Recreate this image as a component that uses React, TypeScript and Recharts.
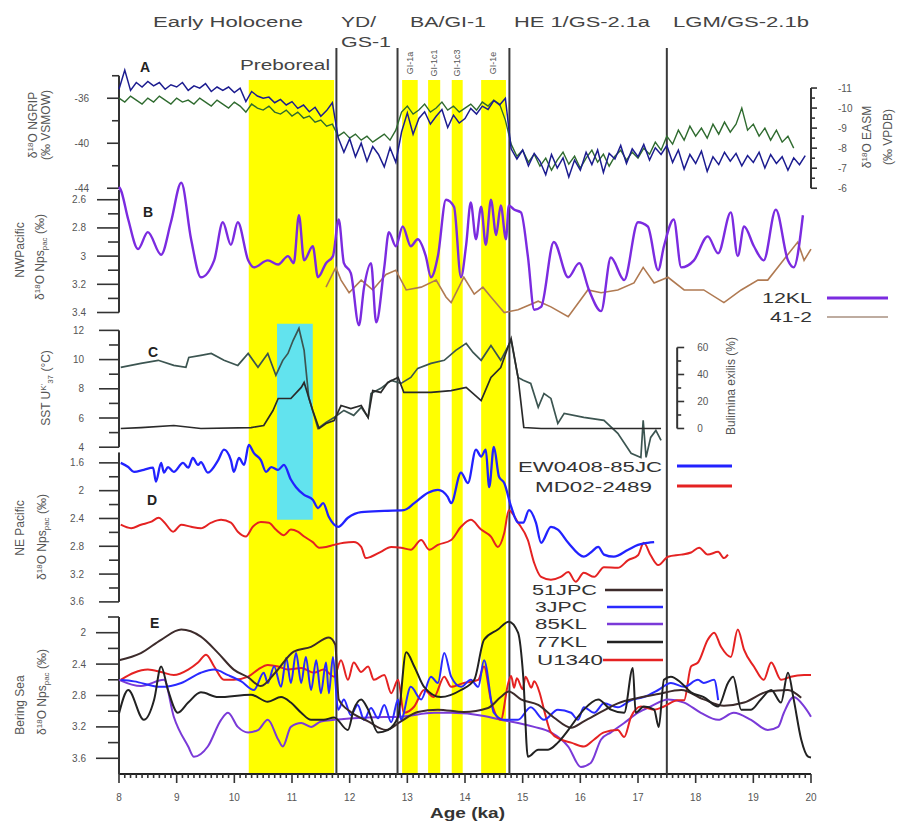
import React from 'react';
import { ComposedChart, Line, XAxis, YAxis, ReferenceArea, ReferenceLine } from 'recharts';

// Multi-proxy deglacial stack (8-20 ka), panels A-E sharing one age axis.

type Pt = [number, number];

const FONT = '"Liberation Sans", Arial, sans-serif';
const AXIS = '#333';
const TXT = '#555';

// ---- age axis ----
const ageLabels = [8, 9, 10, 11, 12, 13, 14, 15, 16, 17, 18, 19, 20];
const periodBounds = [11.77, 12.83, 14.77, 17.5];
const preboreal = [10.25, 11.73];
const giBands: Pt[] = [[12.91, 13.18], [13.36, 13.57], [13.77, 13.96], [14.28, 14.71]];
const cyanBand = [10.74, 11.36];

// ---- A: NGRIP (‰ VSMOW) and EASM speleothem (‰ VPDB) ----
const ngrip: Pt[] = [
  [8.0, -35.2], [8.1, -33.5], [8.2, -35.3], [8.3, -34.6], [8.4, -35.0], [8.5, -34.5], [8.6, -34.9], [8.7, -34.6], [8.8, -35.2], [8.9, -34.8],
  [9.0, -35.0], [9.1, -34.6], [9.2, -35.3], [9.3, -34.9], [9.4, -35.1], [9.5, -34.7], [9.6, -35.4], [9.7, -35.0], [9.8, -35.3], [9.9, -35.0],
  [10.0, -35.5], [10.1, -35.1], [10.2, -36.3], [10.3, -35.4], [10.4, -35.8], [10.5, -36.0], [10.6, -35.9], [10.7, -36.4], [10.8, -36.1], [10.9, -36.6],
  [11.0, -36.3], [11.1, -36.9], [11.2, -36.6], [11.3, -37.2], [11.4, -36.8], [11.5, -37.6], [11.6, -37.1], [11.7, -36.4], [11.8, -39.5], [11.9, -40.8],
  [12.0, -39.6], [12.1, -41.2], [12.2, -40.0], [12.3, -41.6], [12.4, -40.3], [12.5, -41.0], [12.6, -42.1], [12.7, -40.4], [12.8, -41.7], [12.9, -39.0],
  [13.0, -37.3], [13.1, -39.2], [13.2, -37.8], [13.3, -37.2], [13.4, -38.3], [13.5, -37.6], [13.6, -37.0], [13.7, -38.6], [13.8, -37.5], [13.9, -38.2],
  [14.0, -37.8], [14.1, -36.9], [14.2, -37.4], [14.3, -36.7], [14.4, -37.0], [14.5, -36.2], [14.6, -36.6], [14.7, -36.0], [14.8, -40.5], [14.9, -41.4],
  [15.0, -40.6], [15.1, -42.0], [15.2, -40.9], [15.3, -41.6], [15.4, -42.8], [15.5, -41.0], [15.6, -42.2], [15.7, -41.3], [15.8, -43.0], [15.9, -41.5],
  [16.0, -42.4], [16.1, -40.8], [16.2, -41.9], [16.3, -40.6], [16.4, -42.6], [16.5, -40.9], [16.6, -41.4], [16.7, -40.2], [16.8, -41.8], [16.9, -40.5],
  [17.0, -41.2], [17.1, -40.1], [17.2, -41.5], [17.3, -40.4], [17.4, -41.0], [17.5, -40.2], [17.6, -41.7], [17.7, -40.6], [17.8, -42.3], [17.9, -41.0],
  [18.0, -41.8], [18.1, -40.7], [18.2, -42.5], [18.3, -41.2], [18.4, -41.9], [18.5, -40.8], [18.6, -41.6], [18.7, -40.9], [18.8, -42.0], [18.9, -41.1],
  [19.0, -41.7], [19.1, -40.8], [19.2, -42.2], [19.3, -41.0], [19.4, -41.8], [19.5, -41.2], [19.6, -42.4], [19.7, -41.3], [19.8, -41.9], [19.9, -41.1],
];

const easm: Pt[] = [
  [8.0, -10.5], [8.1, -10.3], [8.2, -10.6], [8.3, -10.4], [8.4, -10.2], [8.5, -10.5], [8.6, -10.3], [8.7, -10.6], [8.8, -10.4], [8.9, -10.2],
  [9.0, -10.5], [9.1, -10.3], [9.2, -10.4], [9.3, -10.2], [9.4, -10.5], [9.5, -10.3], [9.6, -10.1], [9.7, -10.4], [9.8, -10.2], [9.9, -10.0],
  [10.0, -10.3], [10.1, -10.1], [10.2, -9.8], [10.3, -10.2], [10.4, -10.0], [10.5, -9.9], [10.6, -10.1], [10.7, -9.8], [10.8, -9.7], [10.9, -9.9],
  [11.0, -9.6], [11.1, -9.8], [11.2, -9.5], [11.3, -9.6], [11.4, -9.3], [11.5, -9.4], [11.6, -9.1], [11.7, -9.2], [11.8, -8.6], [11.9, -8.8],
  [12.0, -8.5], [12.1, -8.7], [12.2, -8.4], [12.3, -8.6], [12.4, -8.3], [12.5, -8.5], [12.6, -8.7], [12.7, -8.4], [12.8, -8.9], [12.9, -9.8],
  [13.0, -10.1], [13.1, -9.7], [13.2, -9.9], [13.3, -10.2], [13.4, -9.8], [13.5, -10.0], [13.6, -10.3], [13.7, -9.9], [13.8, -10.1], [13.9, -9.8],
  [14.0, -10.0], [14.1, -10.2], [14.2, -9.9], [14.3, -10.3], [14.4, -10.1], [14.5, -10.4], [14.6, -10.2], [14.7, -9.4], [14.8, -8.2], [14.9, -7.6],
  [15.0, -7.9], [15.1, -7.3], [15.2, -7.7], [15.3, -7.1], [15.4, -7.5], [15.5, -6.9], [15.6, -7.4], [15.7, -7.8], [15.8, -7.2], [15.9, -7.6],
  [16.0, -7.0], [16.1, -7.5], [16.2, -7.9], [16.3, -7.3], [16.4, -7.7], [16.5, -7.1], [16.6, -7.6], [16.7, -7.9], [16.8, -7.4], [16.9, -7.8],
  [17.0, -7.5], [17.1, -8.0], [17.2, -7.7], [17.3, -8.3], [17.4, -7.9], [17.5, -8.6], [17.6, -8.2], [17.7, -8.9], [17.8, -8.4], [17.9, -9.1],
  [18.0, -8.6], [18.1, -9.0], [18.2, -8.5], [18.3, -9.2], [18.4, -8.7], [18.5, -9.3], [18.6, -8.8], [18.7, -9.2], [18.8, -10.0], [18.9, -8.9],
  [19.0, -9.2], [19.1, -8.6], [19.2, -9.0], [19.3, -8.4], [19.4, -8.9], [19.5, -8.3], [19.6, -8.6], [19.7, -8.0],
];

// ---- B: NW Pacific δ18O (‰) ----
const kl12: Pt[] = [
  [8.0, 2.51], [8.03, 2.53], [8.16, 2.74], [8.33, 2.95], [8.5, 2.83], [8.73, 2.99], [8.9, 2.76], [9.08, 2.48], [9.25, 2.88], [9.42, 3.15],
  [9.65, 3.03], [9.8, 2.76], [9.94, 2.92], [10.06, 2.76], [10.24, 3.03], [10.34, 3.08], [10.58, 3.03], [10.76, 3.06], [10.93, 3.0], [11.03, 3.05],
  [11.12, 2.71], [11.21, 3.03], [11.36, 2.93], [11.45, 3.15], [11.59, 3.05], [11.71, 3.0], [11.81, 2.74], [11.9, 3.05], [12.02, 3.12], [12.16, 3.49],
  [12.25, 3.22], [12.37, 3.05], [12.46, 3.47], [12.6, 3.08], [12.68, 2.83], [12.8, 2.93], [12.92, 2.79], [13.06, 2.93], [13.18, 2.88], [13.32, 3.0],
  [13.41, 3.15], [13.53, 3.0], [13.67, 2.6], [13.81, 2.65], [13.93, 3.15], [14.02, 2.92], [14.1, 2.62], [14.19, 2.88], [14.28, 2.65], [14.36, 2.92],
  [14.45, 2.6], [14.54, 2.85], [14.62, 2.64], [14.71, 2.88], [14.76, 2.64], [14.85, 2.67], [14.97, 2.69], [15.09, 3.0], [15.2, 3.38], [15.32, 3.36],
  [15.54, 2.9], [15.79, 3.15], [15.98, 3.05], [16.15, 3.24], [16.36, 3.39], [16.53, 3.01], [16.76, 3.17], [17.0, 2.76], [17.17, 2.79], [17.35, 3.1],
  [17.45, 2.93], [17.62, 2.74], [17.75, 3.08], [17.97, 3.03], [18.21, 2.86], [18.39, 2.98], [18.61, 2.69], [18.73, 3.0], [18.84, 2.79], [19.01, 2.93],
  [19.18, 3.03], [19.39, 2.67], [19.6, 3.03], [19.7, 3.08], [19.86, 2.71],
];

const core412: Pt[] = [
  [11.59, 3.22], [11.76, 3.08], [11.85, 3.17], [11.99, 3.26], [12.2, 3.17], [12.4, 3.24], [12.63, 3.13], [12.8, 3.1], [12.98, 3.24], [13.24, 3.22],
  [13.5, 3.17], [13.67, 3.29], [13.76, 3.33], [13.98, 3.15], [14.16, 3.27], [14.31, 3.22], [14.45, 3.29], [14.68, 3.4], [14.92, 3.38], [15.27, 3.32],
  [15.49, 3.36], [15.79, 3.43], [16.13, 3.24], [16.36, 3.26], [16.65, 3.24], [16.93, 3.19], [17.09, 3.08], [17.28, 3.19], [17.52, 3.15], [17.8, 3.24],
  [18.14, 3.24], [18.49, 3.33], [18.79, 3.24], [19.08, 3.17], [19.25, 3.17], [19.48, 3.05], [19.77, 2.9], [19.88, 3.03], [20.0, 2.95],
];

// ---- C: SST (°C) and benthic percentage (%) ----
const sst: Pt[] = [
  [8.03, 9.47], [8.38, 9.74], [8.68, 9.95], [8.95, 9.6], [9.16, 9.47], [9.21, 10.15], [9.42, 10.29], [9.6, 10.42], [9.82, 9.95], [10.06, 9.6],
  [10.24, 10.42], [10.41, 9.47], [10.58, 10.42], [10.72, 8.92], [10.84, 9.95], [10.93, 10.42], [11.02, 11.32], [11.12, 12.14], [11.21, 10.63], [11.29, 7.41],
  [11.45, 5.29], [11.59, 5.7], [11.73, 6.04], [11.9, 6.52], [12.07, 6.18], [12.2, 6.73], [12.32, 6.04], [12.37, 7.68], [12.54, 8.03], [12.72, 8.58],
  [12.89, 8.37], [13.06, 8.78], [13.18, 9.4], [13.41, 9.74], [13.64, 9.95], [13.84, 10.63], [14.02, 11.11], [14.14, 10.49], [14.28, 9.95], [14.45, 10.97],
  [14.62, 9.95], [14.8, 11.32], [14.92, 8.78], [15.01, 8.58], [15.14, 8.37], [15.27, 6.73], [15.37, 7.68], [15.49, 7.34], [15.61, 5.63], [15.72, 6.32],
  [16.06, 6.04], [16.41, 5.84], [16.65, 4.95], [16.88, 3.58], [17.05, 3.3], [17.09, 5.84], [17.14, 3.3], [17.22, 4.67], [17.31, 5.15], [17.4, 4.47],
];

const benthicPct: Pt[] = [
  [8.03, 0], [8.38, 0.7], [8.95, 2.2], [9.42, 0], [10.29, 0.7], [10.51, 2.2], [10.67, 13.3], [10.76, 22.2], [10.98, 22.2], [11.16, 30.4],
  [11.21, 34.1], [11.36, 13.3], [11.47, 0], [11.59, 3.7], [11.73, 5.9], [11.85, 17.0], [12.02, 14.8], [12.2, 17.0], [12.32, 8.1], [12.4, 28.1],
  [12.54, 26.7], [12.66, 34.1], [12.84, 37.8], [12.94, 26.7], [13.41, 26.7], [13.76, 28.1], [14.02, 30.4], [14.28, 20.7], [14.45, 37.8], [14.62, 45.2],
  [14.8, 66.7], [14.92, 37.8], [15.02, 0.7], [15.32, 0], [16.36, 0], [17.05, 0], [17.4, 0],
];

// ---- D: NE Pacific δ18O (‰) ----
const ew85jc: Pt[] = [
  [8.03, 1.6], [8.16, 1.66], [8.26, 1.73], [8.43, 1.7], [8.59, 1.67], [8.64, 1.87], [8.73, 1.6], [8.78, 1.74], [8.85, 1.66], [8.95, 1.73],
  [9.11, 1.6], [9.2, 1.67], [9.28, 1.53], [9.37, 1.63], [9.42, 1.59], [9.54, 1.74], [9.72, 1.56], [9.82, 1.41], [9.94, 1.56], [9.99, 1.73],
  [10.08, 1.53], [10.17, 1.63], [10.25, 1.34], [10.34, 1.46], [10.46, 1.56], [10.55, 1.73], [10.64, 1.66], [10.76, 1.7], [10.86, 1.63], [10.98, 1.84],
  [11.07, 1.95], [11.21, 2.06], [11.36, 2.13], [11.45, 2.25], [11.54, 2.18], [11.64, 2.38], [11.8, 2.52], [11.97, 2.39], [12.2, 2.31], [12.6, 2.29],
  [12.94, 2.28], [13.12, 2.18], [13.36, 2.03], [13.53, 1.99], [13.7, 2.09], [13.76, 2.18], [13.93, 1.74], [14.05, 1.89], [14.19, 1.41], [14.28, 1.51],
  [14.36, 1.41], [14.42, 1.95], [14.5, 1.37], [14.59, 1.8], [14.68, 1.89], [14.8, 2.23], [14.92, 2.46], [15.01, 2.46], [15.11, 2.28], [15.23, 2.46],
  [15.32, 2.75], [15.49, 2.52], [15.61, 2.56], [15.79, 2.75], [16.06, 2.95], [16.18, 2.89], [16.31, 2.81], [16.41, 2.92], [16.58, 2.95], [16.83, 2.85],
  [17.0, 2.78], [17.17, 2.75], [17.28, 2.74],
];

const md2489: Pt[] = [
  [8.03, 2.49], [8.21, 2.54], [8.38, 2.49], [8.55, 2.45], [8.69, 2.39], [8.78, 2.45], [8.94, 2.59], [9.08, 2.49], [9.25, 2.52], [9.42, 2.54],
  [9.6, 2.46], [9.77, 2.42], [9.94, 2.46], [10.06, 2.59], [10.2, 2.66], [10.32, 2.52], [10.46, 2.45], [10.6, 2.46], [10.72, 2.56], [10.86, 2.64],
  [10.98, 2.56], [11.1, 2.59], [11.21, 2.66], [11.36, 2.74], [11.47, 2.82], [11.59, 2.81], [11.73, 2.78], [11.9, 2.75], [12.07, 2.74], [12.2, 2.81],
  [12.28, 2.97], [12.37, 2.95], [12.54, 2.88], [12.72, 2.81], [12.89, 2.82], [13.06, 2.85], [13.24, 2.71], [13.38, 2.85], [13.53, 2.78], [13.76, 2.71],
  [13.93, 2.52], [14.1, 2.42], [14.28, 2.56], [14.45, 2.66], [14.57, 2.81], [14.68, 2.61], [14.76, 2.28], [14.92, 2.46], [15.09, 2.71], [15.2, 3.04],
  [15.32, 3.24], [15.49, 3.28], [15.66, 3.24], [15.79, 3.17], [15.92, 3.31], [16.06, 3.18], [16.24, 3.24], [16.41, 3.1], [16.65, 3.11], [16.83, 3.0],
  [17.0, 2.93], [17.1, 2.75], [17.22, 2.93], [17.35, 3.07], [17.52, 2.95], [17.75, 2.92], [17.92, 2.89], [18.06, 2.82], [18.21, 2.92], [18.39, 2.88],
  [18.49, 2.97], [18.56, 2.92],
];

// ---- E: Bering Sea δ18O (‰) ----
const jpc51: Pt[] = [
  [8.0, 2.35], [8.38, 2.26], [8.73, 2.09], [9.08, 1.96], [9.42, 2.05], [9.72, 2.26], [9.99, 2.47], [10.24, 2.57], [10.46, 2.68], [10.72, 2.5],
  [11.03, 2.24], [11.33, 2.18], [11.64, 2.06], [11.75, 2.15], [11.81, 2.85], [12.02, 3.01], [12.32, 3.13], [12.63, 3.24], [12.89, 3.13], [13.18, 3.01],
  [13.53, 2.98], [13.98, 3.01], [14.4, 2.96], [14.62, 2.82], [14.76, 2.75], [14.97, 2.85], [15.27, 2.92], [15.54, 3.08], [15.84, 3.21], [16.06, 3.13],
  [16.36, 3.01], [16.65, 2.9], [17.0, 2.83], [17.35, 2.78], [17.75, 2.73], [18.14, 2.85], [18.49, 2.93], [18.84, 2.89], [19.25, 2.75], [19.6, 2.73],
  [19.83, 2.83],
];

const jpc3: Pt[] = [
  [8.03, 2.6], [8.26, 2.62], [8.73, 2.69], [9.08, 2.64], [9.42, 2.51], [9.65, 2.47], [9.89, 2.54], [10.12, 2.62], [10.34, 2.73], [10.51, 2.51],
  [10.58, 2.64], [10.69, 2.43], [10.81, 2.69], [10.9, 2.32], [10.98, 2.64], [11.07, 2.26], [11.16, 2.64], [11.24, 2.31], [11.33, 2.73], [11.42, 2.35],
  [11.5, 2.77], [11.59, 2.38], [11.64, 2.77], [11.71, 2.31], [11.8, 2.98], [11.9, 2.85], [12.02, 3.05], [12.14, 2.92], [12.25, 3.11], [12.37, 2.96],
  [12.49, 3.09], [12.6, 2.92], [12.72, 3.14], [12.84, 2.85], [12.89, 3.11], [13.06, 2.69], [13.24, 2.85], [13.41, 2.56], [13.53, 2.64], [13.64, 2.26],
  [13.76, 2.56], [13.93, 2.69], [14.1, 2.6], [14.23, 2.69], [14.33, 2.35], [14.5, 3.02], [14.68, 3.11], [14.92, 3.11], [15.14, 2.95], [15.37, 3.11],
  [15.61, 2.98], [15.84, 3.02], [15.96, 3.11], [16.06, 2.95], [16.24, 3.02], [16.41, 2.9], [16.65, 2.95], [16.88, 2.86], [17.1, 2.82], [17.35, 2.73],
  [17.57, 2.64], [17.8, 2.69], [18.04, 2.6], [18.14, 2.64], [18.32, 2.6], [18.39, 2.86],
];

const kl85: Pt[] = [
  [8.0, 2.6], [8.38, 2.68], [8.78, 2.6], [8.95, 3.07], [9.2, 3.45], [9.3, 3.58], [9.54, 3.45], [9.77, 3.11], [9.89, 3.02], [10.06, 3.2],
  [10.24, 3.27], [10.41, 3.24], [10.58, 3.11], [10.76, 3.36], [10.84, 3.45], [10.98, 3.2], [11.16, 3.15], [11.33, 3.2], [11.5, 3.13], [11.73, 3.11],
  [12.32, 3.08], [12.89, 3.07], [13.46, 3.02], [13.76, 3.02], [14.33, 3.06], [14.62, 3.11], [14.92, 3.15], [15.2, 3.2], [15.49, 3.27], [15.79, 3.45],
  [16.01, 3.71], [16.18, 3.66], [16.36, 3.36], [16.53, 3.27], [16.76, 3.15], [17.0, 3.02], [17.22, 2.94], [17.52, 2.85], [17.8, 2.89], [18.09, 3.02],
  [18.39, 3.11], [18.66, 3.02], [18.96, 3.11], [19.25, 3.24], [19.43, 3.2], [19.53, 3.02], [19.7, 2.82], [19.88, 2.94], [20.0, 3.07],
];

const kl77: Pt[] = [
  [8.0, 3.03], [8.16, 2.73], [8.43, 3.11], [8.61, 2.85], [8.73, 2.43], [8.85, 2.73], [9.02, 3.02], [9.2, 2.89], [9.42, 2.76], [9.72, 2.82],
  [10.29, 2.79], [10.58, 2.88], [10.81, 2.82], [10.98, 2.89], [11.16, 3.02], [11.33, 3.11], [11.55, 3.11], [11.73, 3.08], [11.97, 3.24], [12.07, 2.98],
  [12.2, 2.85], [12.32, 2.98], [12.49, 3.27], [12.66, 3.24], [12.84, 3.07], [12.98, 2.25], [13.12, 2.43], [13.29, 2.69], [13.58, 2.82], [13.93, 2.73],
  [14.16, 2.6], [14.33, 2.09], [14.57, 1.96], [14.76, 1.86], [14.92, 2.0], [15.01, 2.56], [15.09, 3.58], [15.27, 3.49], [15.44, 3.49], [15.61, 3.4],
  [15.79, 3.24], [15.96, 3.07], [16.06, 2.98], [16.31, 2.85], [16.53, 2.98], [16.76, 3.02], [16.91, 2.45], [16.96, 3.02], [17.1, 2.94], [17.28, 2.98],
  [17.36, 3.2], [17.45, 2.6], [17.57, 2.56], [17.75, 2.64], [17.92, 2.76], [18.14, 2.82], [18.39, 2.94], [18.56, 2.64], [18.65, 2.56], [18.79, 2.98],
  [18.96, 2.98], [19.13, 2.85], [19.31, 2.73], [19.48, 2.89], [19.6, 2.51], [19.7, 2.85], [19.83, 3.36], [19.95, 3.58], [20.0, 3.59],
];

const u1340: Pt[] = [
  [8.03, 2.6], [8.26, 2.51], [8.5, 2.47], [8.73, 2.5], [8.95, 2.54], [9.2, 2.47], [9.37, 2.38], [9.51, 2.28], [9.65, 2.43], [9.82, 2.6],
  [9.99, 2.6], [10.24, 2.56], [10.41, 2.47], [10.58, 2.41], [10.76, 2.43], [10.93, 2.47], [11.16, 2.45], [11.38, 2.51], [11.55, 2.47], [11.73, 2.56],
  [11.85, 2.35], [11.97, 2.6], [12.07, 2.38], [12.2, 2.5], [12.32, 2.43], [12.42, 2.6], [12.6, 2.54], [12.72, 2.77], [12.84, 2.6], [12.94, 3.02],
  [13.12, 2.94], [13.29, 2.73], [13.46, 2.82], [13.64, 2.56], [13.76, 2.69], [13.98, 2.64], [14.23, 2.6], [14.33, 2.43], [14.45, 2.86], [14.62, 3.11],
  [14.75, 2.64], [14.8, 2.55], [14.85, 2.7], [14.9, 2.58], [15.0, 2.72], [15.05, 2.56], [15.15, 2.7], [15.2, 2.62], [15.3, 2.78], [15.37, 2.98],
  [15.49, 3.27], [15.66, 3.36], [15.84, 3.4], [16.06, 3.45], [16.24, 3.36], [16.41, 3.27], [16.65, 3.24], [16.76, 3.33], [16.88, 3.07], [17.05, 2.94],
  [17.28, 2.98], [17.45, 2.94], [17.69, 2.86], [17.8, 2.86], [17.92, 2.43], [18.04, 2.38], [18.21, 2.09], [18.32, 2.0], [18.44, 2.18], [18.61, 2.31],
  [18.73, 1.96], [18.84, 2.22], [19.01, 2.43], [19.18, 2.6], [19.31, 2.38], [19.48, 2.6], [19.65, 2.56], [19.88, 2.54], [20.0, 2.54],
];

// ---- y-axis ticks ----
const ticksA = [-44, -42, -40, -38, -36, -34];
const labelsA = [-44, -40, -36];
const ticksAr = [-11, -10.5, -10, -9.5, -9, -8.5, -8, -7.5, -7, -6.5, -6];
const labelsAr = [-11, -10, -9, -8, -7, -6];
const ticksB = [2.6, 2.7, 2.8, 2.9, 3, 3.1, 3.2, 3.3, 3.4];
const labelsB = [2.6, 2.8, 3, 3.2, 3.4];
const ticksC = [4, 5, 6, 7, 8, 9, 10, 11, 12];
const labelsC = [4, 6, 8, 10, 12];
const ticksCr = [0, 10, 20, 30, 40, 50, 60];
const labelsCr = [0, 20, 40, 60];
const ticksD = [1.6, 1.8, 2, 2.2, 2.4, 2.6, 2.8, 3, 3.2, 3.4, 3.6];
const labelsD = [1.6, 2, 2.4, 2.8, 3.2, 3.6];
const ticksE = [1.8, 2, 2.2, 2.4, 2.6, 2.8, 3, 3.2, 3.4, 3.6];
const labelsE = [2, 2.4, 2.8, 3.2, 3.6];

const ageTicks = ageLabels.flatMap((a, i) =>
  i === ageLabels.length - 1 ? [a] : [0, 1, 2, 3, 4, 5, 6, 7, 8, 9].map((k) => +(a + k / 10).toFixed(1))
);
// rows for the background charts so their scales are built (drawn with no stroke)
const ageRows = ageLabels.map((age) => ({ age, v: 0.5 }));

const pts = (arr: Pt[]) => arr.map(([age, v]) => ({ age, v }));
const near = (a: number, b: number) => Math.abs(a - b) < 1e-6;

function yTick(labels: number[], side: 'left' | 'right', major: number, minor: number, gap: number) {
  return (props: any) => {
    const { x, y, payload } = props;
    const v = payload.value as number;
    const isMajor = labels.some((l) => near(l, v));
    const dir = side === 'left' ? -1 : 1;
    const len = isMajor ? major : minor;
    return (
      <g>
        <line x1={x} x2={x + dir * len} y1={y} y2={y} stroke={AXIS} strokeWidth={1.6} />
        {isMajor && (
          <text
            x={x + dir * (major + gap)}
            y={y}
            dy={3.5}
            textAnchor={side === 'left' ? 'end' : 'start'}
            fontSize={10}
            fill={TXT}
            fontFamily={FONT}
          >
            {String(v)}
          </text>
        )}
      </g>
    );
  };
}

const XTick = (props: any) => {
  const { x, y, payload } = props;
  const v = payload.value as number;
  const isMajor = ageLabels.some((l) => near(l, v));
  return (
    <g>
      <line x1={x} x2={x} y1={y} y2={y + (isMajor ? 9 : 4)} stroke={AXIS} strokeWidth={1.6} />
      {isMajor && (
        <text x={x} y={y + 27} textAnchor="middle" fontSize={10} fill={TXT} fontFamily={FONT}>
          {v}
        </text>
      )}
    </g>
  );
};

const yAxisCommon = {
  type: 'number' as const,
  axisLine: false,
  tickLine: false,
  tickSize: 0,
  tickMargin: 0,
  interval: 0 as const,
  width: 60,
};

const ageAxis = <XAxis type="number" dataKey="age" domain={[8, 20]} hide />;

const lineProps = { dot: false, isAnimationActive: false, activeDot: false } as const;

function Rot({ x, y, children, size = 12, rot = -90 }: { x: number; y: number; children: React.ReactNode; size?: number; rot?: number }) {
  return (
    <text transform={`translate(${x},${y}) rotate(${rot})`} textAnchor="middle" dy={4} fontSize={size} fill={TXT}>
      {children}
    </text>
  );
}

const NpsLabel = () => (
  <>
    δ<tspan dy={-4} fontSize={8}>18</tspan>
    <tspan dy={4}>O Nps</tspan>
    <tspan dy={3} fontSize={8}>pac</tspan>
    <tspan dy={-3}> (‰)</tspan>
  </>
);

export default function App() {
  return (
    <div style={{ position: 'absolute', left: 0, top: 0, width: 907, height: 822, background: '#fff', fontFamily: FONT }}>
      {/* background bands + age axis */}
      <div style={{ position: 'absolute', left: 0, top: 0 }}>
        <ComposedChart width={907} height={822} margin={{ top: 80, bottom: 8, left: 119, right: 96 }}>
          <XAxis
            type="number"
            dataKey="age"
            domain={[8, 20]}
            ticks={ageTicks}
            interval={0}
            height={40}
            tickSize={0}
            tickMargin={0}
            tickLine={false}
            axisLine={{ stroke: '#222', strokeWidth: 2 }}
            tick={XTick}
          />
          <YAxis hide type="number" domain={[0, 1]} />
          <ReferenceArea x1={preboreal[0]} x2={preboreal[1]} y1={0} y2={1} fill="#ffff00" fillOpacity={1} stroke="none" ifOverflow="visible" />
          {giBands.map(([a, b]) => (
            <ReferenceArea key={a} x1={a} x2={b} y1={0} y2={1} fill="#ffff00" fillOpacity={1} stroke="none" ifOverflow="visible" />
          ))}
          <Line data={ageRows} dataKey="v" stroke="none" {...lineProps} />
        </ComposedChart>
      </div>

      {/* period boundaries */}
      <div style={{ position: 'absolute', left: 0, top: 0 }}>
        <ComposedChart width={907} height={822} margin={{ top: 48, bottom: 48, left: 119, right: 96 }}>
          {ageAxis}
          <YAxis hide type="number" domain={[0, 1]} />
          {periodBounds.map((b) => (
            <ReferenceLine key={b} x={b} stroke="#3a3a3a" strokeWidth={2} ifOverflow="visible" />
          ))}
          <Line data={ageRows} dataKey="v" stroke="none" {...lineProps} />
        </ComposedChart>
      </div>

      {/* A */}
      <div style={{ position: 'absolute', left: 0, top: 49 }}>
        <ComposedChart width={907} height={159.25} margin={{ top: 20, bottom: 20, left: 59, right: 36 }}>
          {ageAxis}
          <YAxis yAxisId="l" {...yAxisCommon} domain={[-44, -33.4]} ticks={ticksA} tick={yTick(labelsA, 'left', 12, 7, 18)} />
          <YAxis yAxisId="r" orientation="right" reversed {...yAxisCommon} domain={[-11.95, -6]} ticks={ticksAr} tick={yTick(labelsAr, 'right', 6, 4, 21)} />
          <ReferenceLine yAxisId="l" segment={[{ x: 8, y: -44 }, { x: 8, y: -34 }]} stroke={AXIS} strokeWidth={2} ifOverflow="visible" />
          <ReferenceLine yAxisId="r" segment={[{ x: 20, y: -11 }, { x: 20, y: -6 }]} stroke={AXIS} strokeWidth={2} ifOverflow="visible" />
          <Line yAxisId="r" data={pts(easm)} dataKey="v" type="linear" stroke="#2f6b2f" strokeWidth={1.4} {...lineProps} />
          <Line yAxisId="l" data={pts(ngrip)} dataKey="v" type="linear" stroke="#1c1c90" strokeWidth={1.5} {...lineProps} />
        </ComposedChart>
      </div>

      {/* B */}
      <div style={{ position: 'absolute', left: 0, top: 160.3 }}>
        <ComposedChart width={907} height={186.6} margin={{ top: 20, bottom: 20, left: 59, right: 96 }}>
          {ageAxis}
          <YAxis {...yAxisCommon} reversed domain={[2.46, 3.5]} ticks={ticksB} tick={yTick(labelsB, 'left', 22, 11, 11)} />
          <ReferenceLine segment={[{ x: 8, y: 2.53 }, { x: 8, y: 3.4 }]} stroke={AXIS} strokeWidth={2} ifOverflow="visible" />
          <Line data={pts(core412)} dataKey="v" type="linear" stroke="#b07a52" strokeWidth={1.6} {...lineProps} />
          <Line data={pts(kl12)} dataKey="v" type="monotone" stroke="#7b2be0" strokeWidth={2.4} {...lineProps} />
        </ComposedChart>
      </div>

      {/* C */}
      <div style={{ position: 'absolute', left: 0, top: 305.6 }}>
        <ComposedChart width={907} height={172.9} margin={{ top: 20, bottom: 20, left: 59, right: 96 }}>
          {ageAxis}
          <YAxis {...yAxisCommon} domain={[3.2, 12.3]} ticks={ticksC} tick={yTick(labelsC, 'left', 20, 10, 15)} />
          <ReferenceArea x1={cyanBand[0]} x2={cyanBand[1]} y1={12.45} y2={3.2} fill="#62e3ee" fillOpacity={1} stroke="none" ifOverflow="visible" />
          <ReferenceLine segment={[{ x: 8, y: 4 }, { x: 8, y: 12 }]} stroke={AXIS} strokeWidth={2} ifOverflow="visible" />
          <Line data={pts(sst)} dataKey="v" type="linear" stroke="#3c5551" strokeWidth={1.7} {...lineProps} />
        </ComposedChart>
      </div>

      {/* C, percentage axis (ends at 17.68 ka) */}
      <div style={{ position: 'absolute', left: 0, top: 313.5 }}>
        <ComposedChart width={907} height={137.2} margin={{ top: 20, bottom: 20, left: 119, right: 169.8 }}>
          <XAxis type="number" dataKey="age" domain={[8, 17.68]} hide />
          <YAxis yAxisId="p" orientation="right" {...yAxisCommon} domain={[-2, 70]} ticks={ticksCr} tick={yTick(labelsCr, 'right', 7, 4, 13)} />
          <ReferenceLine yAxisId="p" segment={[{ x: 17.68, y: 0 }, { x: 17.68, y: 60 }]} stroke={AXIS} strokeWidth={2} ifOverflow="visible" />
          <Line yAxisId="p" data={pts(benthicPct)} dataKey="v" type="linear" stroke="#2a2a2a" strokeWidth={1.7} {...lineProps} />
        </ComposedChart>
      </div>

      {/* D */}
      <div style={{ position: 'absolute', left: 0, top: 422.15 }}>
        <ComposedChart width={907} height={199.9} margin={{ top: 20, bottom: 20, left: 59, right: 96 }}>
          {ageAxis}
          <YAxis {...yAxisCommon} reversed domain={[1.3, 3.6]} ticks={ticksD} tick={yTick(labelsD, 'left', 20, 10, 15)} />
          <ReferenceArea x1={cyanBand[0]} x2={cyanBand[1]} y1={1.3} y2={2.42} fill="#62e3ee" fillOpacity={1} stroke="none" ifOverflow="visible" />
          <ReferenceLine segment={[{ x: 8, y: 1.45 }, { x: 8, y: 3.6 }]} stroke={AXIS} strokeWidth={2} ifOverflow="visible" />
          <Line data={pts(md2489)} dataKey="v" type="monotone" stroke="#e42222" strokeWidth={2} {...lineProps} />
          <Line data={pts(ew85jc)} dataKey="v" type="monotone" stroke="#2222ff" strokeWidth={2.3} {...lineProps} />
        </ComposedChart>
      </div>

      {/* E */}
      <div style={{ position: 'absolute', left: 0, top: 597 }}>
        <ComposedChart width={907} height={197} margin={{ top: 20, bottom: 20, left: 59, right: 96 }}>
          {ageAxis}
          <YAxis {...yAxisCommon} reversed domain={[1.8, 3.8]} ticks={ticksE} tick={yTick(labelsE, 'left', 23, 11, 10)} />
          <ReferenceLine segment={[{ x: 8, y: 1.8 }, { x: 8, y: 3.8 }]} stroke={AXIS} strokeWidth={2} ifOverflow="visible" />
          <Line data={pts(kl85)} dataKey="v" type="monotone" stroke="#7a3ad8" strokeWidth={2} {...lineProps} />
          <Line data={pts(u1340)} dataKey="v" type="monotone" stroke="#e52222" strokeWidth={2} {...lineProps} />
          <Line data={pts(jpc3)} dataKey="v" type="monotone" stroke="#2a2aff" strokeWidth={2} {...lineProps} />
          <Line data={pts(jpc51)} dataKey="v" type="monotone" stroke="#3d2b2b" strokeWidth={2} {...lineProps} />
          <Line data={pts(kl77)} dataKey="v" type="monotone" stroke="#222" strokeWidth={2} {...lineProps} />
        </ComposedChart>
      </div>

      {/* annotations */}
      <svg width={907} height={822} style={{ position: 'absolute', left: 0, top: 0, pointerEvents: 'none' }} fontFamily={FONT}>
        <g fontSize={14} fill="#444">
          <text x={153} y={27} textLength={150} lengthAdjust="spacingAndGlyphs">Early Holocene</text>
          <text x={341} y={27} textLength={35} lengthAdjust="spacingAndGlyphs">YD/</text>
          <text x={341} y={47} textLength={50} lengthAdjust="spacingAndGlyphs">GS-1</text>
          <text x={410} y={27} textLength={76} lengthAdjust="spacingAndGlyphs">BA/GI-1</text>
          <text x={514} y={27} textLength={136} lengthAdjust="spacingAndGlyphs">HE 1/GS-2.1a</text>
          <text x={673} y={27} textLength={136} lengthAdjust="spacingAndGlyphs">LGM/GS-2.1b</text>
          <text x={240} y={70} textLength={90} lengthAdjust="spacingAndGlyphs">Preboreal</text>
        </g>
        <g fontSize={9} fill="#444">
          <Rot x={409} y={63} size={9}>GI-1a</Rot>
          <Rot x={433} y={63} size={9}>GI-1c1</Rot>
          <Rot x={456} y={63} size={9}>GI-1c3</Rot>
          <Rot x={492} y={63} size={9}>GI-1e</Rot>
        </g>
        <g fontSize={14} fontWeight="bold" fill="#222">
          <text x={140} y={72}>A</text>
          <text x={143} y={217}>B</text>
          <text x={148} y={357}>C</text>
          <text x={147} y={505}>D</text>
          <text x={150} y={628}>E</text>
        </g>

        {/* axis titles */}
        <Rot x={33} y={125}>
          δ<tspan dy={-4} fontSize={8}>18</tspan><tspan dy={4}>O NGRIP</tspan>
        </Rot>
        <Rot x={46} y={125}>(‰ VSMOW)</Rot>
        <Rot x={867} y={137}>
          δ<tspan dy={-4} fontSize={8}>18</tspan><tspan dy={4}>O EASM</tspan>
        </Rot>
        <Rot x={888} y={137}>(‰ VPDB)</Rot>
        <Rot x={20} y={250}>NWPacific</Rot>
        <Rot x={40} y={257}><NpsLabel /></Rot>
        <Rot x={46} y={388}>
          SST U<tspan dy={-4} fontSize={8}>K'</tspan><tspan dy={7} fontSize={8}>37</tspan><tspan dy={-3}> (°C)</tspan>
        </Rot>
        <Rot x={731} y={386}>Bulimina exilis (%)</Rot>
        <Rot x={20} y={528}>NE Pacific</Rot>
        <Rot x={42} y={537}><NpsLabel /></Rot>
        <Rot x={20} y={705}>Bering Sea</Rot>
        <Rot x={42} y={692}><NpsLabel /></Rot>
        <text x={430} y={818} fontSize={15} fontWeight="bold" fill="#333" textLength={75} lengthAdjust="spacingAndGlyphs">Age (ka)</text>

        {/* legends */}
        <g fontSize={14} fill="#333">
          <text x={762} y={303} textLength={50} lengthAdjust="spacingAndGlyphs">12KL</text>
          <line x1={827} x2={888} y1={298} y2={298} stroke="#7b2be0" strokeWidth={3} />
          <text x={770} y={322} textLength={42} lengthAdjust="spacingAndGlyphs">41-2</text>
          <line x1={827} x2={888} y1={317} y2={317} stroke="#a89080" strokeWidth={1.5} />

          <text x={518} y={472} textLength={144} lengthAdjust="spacingAndGlyphs">EW0408-85JC</text>
          <line x1={677} x2={732} y1={466} y2={466} stroke="#2222ff" strokeWidth={3} />
          <text x={535} y={492} textLength={117} lengthAdjust="spacingAndGlyphs">MD02-2489</text>
          <line x1={677} x2={732} y1={486} y2={486} stroke="#e42222" strokeWidth={3} />

          <text x={532} y={595} textLength={65} lengthAdjust="spacingAndGlyphs">51JPC</text>
          <line x1={605} x2={663} y1={590} y2={590} stroke="#3d2b2b" strokeWidth={2.5} />
          <text x={535} y={612} textLength={52} lengthAdjust="spacingAndGlyphs">3JPC</text>
          <line x1={607} x2={663} y1={607} y2={607} stroke="#2a2aff" strokeWidth={2.5} />
          <text x={535} y={629} textLength={52} lengthAdjust="spacingAndGlyphs">85KL</text>
          <line x1={607} x2={663} y1={624} y2={624} stroke="#7a3ad8" strokeWidth={2.5} />
          <text x={535} y={647} textLength={52} lengthAdjust="spacingAndGlyphs">77KL</text>
          <line x1={607} x2={663} y1={642} y2={642} stroke="#222" strokeWidth={2.5} />
          <text x={537} y={665} textLength={66} lengthAdjust="spacingAndGlyphs">U1340</text>
          <line x1={603} x2={663} y1={660} y2={660} stroke="#e52222" strokeWidth={2.5} />
        </g>
      </svg>
    </div>
  );
}
